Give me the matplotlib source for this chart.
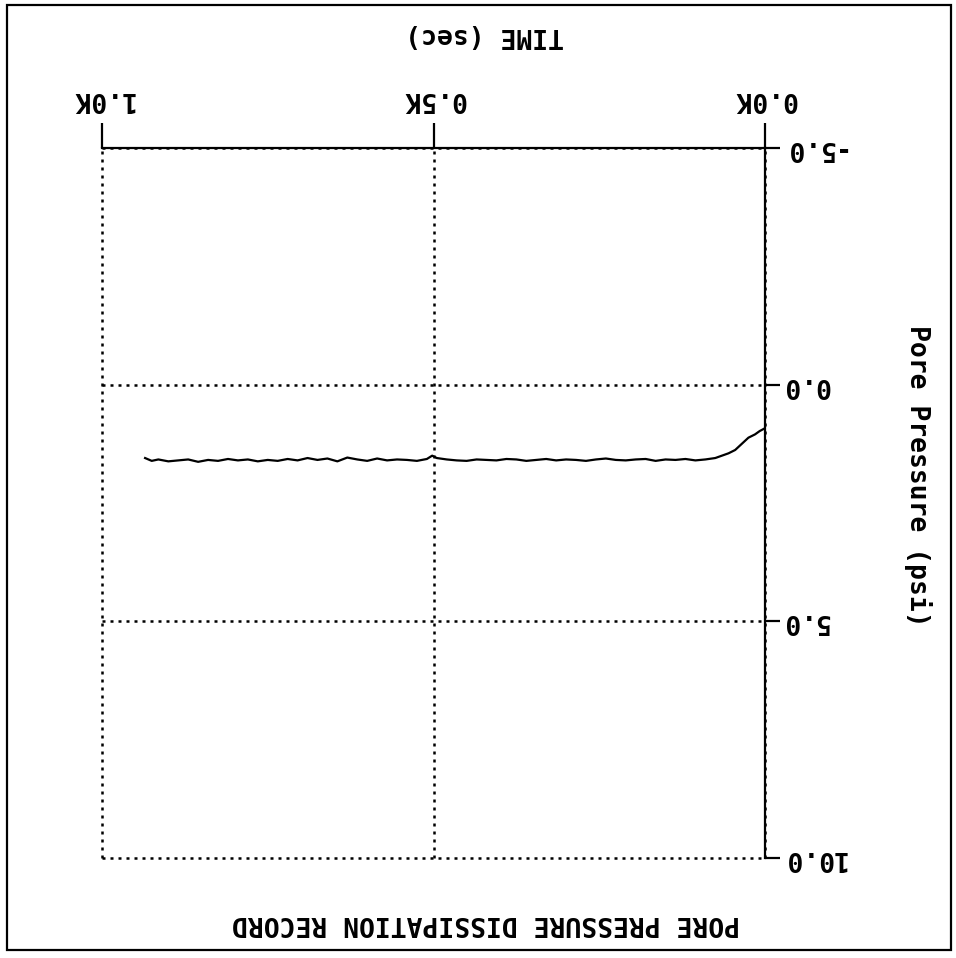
import matplotlib
matplotlib.use("Agg")
import matplotlib.pyplot as plt
from matplotlib.patches import Rectangle

# pore pressure record (sec, psi)
time_s = [0, 8, 15, 25, 35, 45, 55, 65, 75, 90, 105, 120, 135, 150, 165, 180,
          195, 210, 225, 240, 255, 270, 285, 300, 315, 330, 345, 360, 375, 390,
          405, 420, 435, 450, 465, 480, 495, 502, 510, 525, 540, 555, 570, 585,
          600, 615, 630, 645, 660, 675, 690, 705, 720, 735, 750, 765, 780, 795,
          810, 825, 840, 855, 870, 885, 900, 915, 925, 935]
pressure = [0.92, 0.98, 1.05, 1.12, 1.25, 1.38, 1.45, 1.50, 1.55, 1.58, 1.60, 1.57,
            1.59, 1.58, 1.61, 1.57, 1.58, 1.60, 1.59, 1.56, 1.58, 1.61, 1.59, 1.58,
            1.60, 1.57, 1.59, 1.61, 1.58, 1.57, 1.60, 1.59, 1.58, 1.61, 1.60, 1.58,
            1.55, 1.50, 1.57, 1.61, 1.59, 1.58, 1.60, 1.56, 1.61, 1.58, 1.54, 1.62,
            1.56, 1.59, 1.55, 1.60, 1.57, 1.61, 1.59, 1.62, 1.58, 1.60, 1.57, 1.61,
            1.59, 1.63, 1.58, 1.60, 1.62, 1.58, 1.61, 1.55]

x_ticks = [0, 500, 1000]
x_labels = ["0.0K", "0.5K", "1.0K"]
y_ticks = [-5, 0, 5, 10]
y_labels = ["-5.0", "0.0", "5.0", "10.0"]

title = "PORE PRESSURE DISSIPATION RECORD"
xlabel = "TIME (sec)"
ylabel = "Pore Pressure (psi)"

font = {"family": "DejaVu Sans Mono", "weight": "bold"}
fs = 19

fig = plt.figure(figsize=(9.56, 9.58), dpi=100)
W, H = 956, 958
# axes box in pixel coords of the (upside-down) page
ax = fig.add_axes([102 / W, 1 - 858 / H, 663 / W, 710 / H])

ax.plot(time_s, pressure, color="black", lw=1.6)

# whole page is rotated 180 degrees
ax.set_xlim(1000, 0)
ax.set_ylim(10, -5)

ax.spines["left"].set_visible(False)
ax.spines["bottom"].set_visible(False)
ax.spines["top"].set_linewidth(1.6)
ax.spines["right"].set_linewidth(1.6)

ax.xaxis.tick_top()
ax.yaxis.tick_right()
ax.set_xticks(x_ticks, labels=x_labels)
ax.set_yticks(y_ticks, labels=y_labels)
ax.tick_params(axis="x", direction="out", length=18, width=1.6, pad=8)
ax.tick_params(axis="y", direction="out", length=11, width=1.6, pad=1)
for lbl in ax.get_xticklabels() + ax.get_yticklabels():
    lbl.set_rotation(180)
    lbl.set_fontsize(fs)
    lbl.set_fontfamily(font["family"])
    lbl.set_fontweight("bold")
for lbl in ax.get_yticklabels():
    lbl.set_verticalalignment("center")

ax.grid(True, color="black", linestyle=(0, (1.2, 2.0)), lw=1.8)
for gl in ax.get_xgridlines() + ax.get_ygridlines():
    gl.set_clip_on(False)

fig.text(486 / W, 1 - 923 / H, title, rotation=180, ha="center", va="center",
         fontsize=fs, **font)
fig.text(485 / W, 1 - 35 / H, xlabel, rotation=180, ha="center", va="center",
         fontsize=fs, **font)
fig.text(918 / W, 1 - 476 / H, ylabel, rotation=270, ha="center", va="center",
         fontsize=fs, **font)

fig.patches.append(Rectangle((7 / W, 1 - 950 / H), 944 / W, 945 / H,
                             transform=fig.transFigure, fill=False,
                             edgecolor="black", lw=1.6))

fig.savefig("out.png", dpi=100)
